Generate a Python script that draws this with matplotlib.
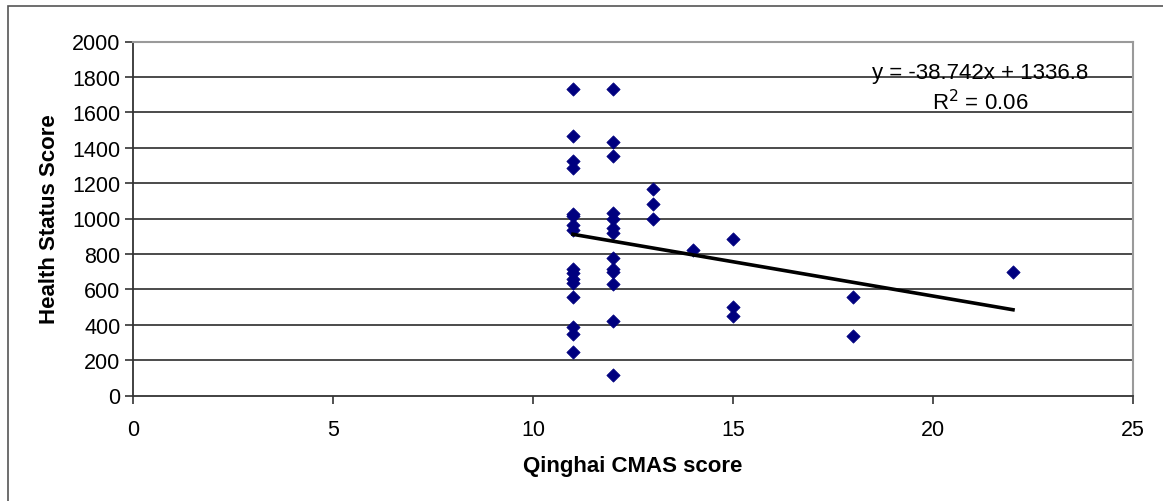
import matplotlib
matplotlib.use("Agg")
import matplotlib.pyplot as plt
from matplotlib.patches import Rectangle

# Data
cmas_x = [11]*16 + [12]*13 + [13]*3 + [14] + [15]*3 + [18]*2 + [22]
health_y = [1732, 1464, 1326, 1285, 1025, 1015, 962, 935, 713, 690, 660, 635, 558, 389, 350, 245,
            1732, 1434, 1351, 1030, 1000, 947, 917, 777, 713, 698, 632, 421, 113,
            1166, 1081, 996,
            821,
            887, 498, 449,
            557, 336,
            698]
slope = -38.742
intercept = 1336.8
r_squared = 0.06
x_ticks = [0, 5, 10, 15, 20, 25]
y_ticks = list(range(0, 2001, 200))

plt.rcParams['font.family'] = ['Liberation Sans', 'DejaVu Sans']

W, H = 1163, 502
fig = plt.figure(figsize=(W/100, H/100), dpi=100)
fig.patch.set_facecolor('white')

# outer chart frame
fig.patches.append(Rectangle((8/W, -0.1), 1.2, (H-7)/H + 0.1, transform=fig.transFigure,
                             fill=False, edgecolor='#555555', linewidth=1.2))

ax = fig.add_axes([133/W, 1 - 396.5/H, 1000/W, (396.5-42.5)/H])
ax.set_xlim(0, 25)
ax.set_ylim(0, 2000)
ax.set_xticks(x_ticks)
ax.set_yticks(y_ticks)

for v in y_ticks[1:-1]:
    ax.axhline(v, color='#1a1a1a', linewidth=1.1, zorder=1)

ax.spines['top'].set_color('#9a9a9a')
ax.spines['right'].set_color('#9a9a9a')
ax.spines['top'].set_linewidth(1.5)
ax.spines['right'].set_linewidth(1.5)
ax.spines['left'].set_color('#333333')
ax.spines['bottom'].set_color('#333333')
ax.spines['left'].set_linewidth(1.3)
ax.spines['bottom'].set_linewidth(1.3)

ax.tick_params(axis='both', direction='out', length=6, width=1.2, colors='#333333',
               labelcolor='black', labelsize=15.5)
ax.tick_params(axis='x', pad=11)
ax.tick_params(axis='y', pad=3)

ax.scatter(cmas_x, health_y, marker='D', s=46, color='#00007f', edgecolors='#00007f',
           linewidths=0.5, zorder=3)

tx = [min(cmas_x), max(cmas_x)]
ax.plot(tx, [slope*t + intercept for t in tx], color='black', linewidth=2.6, zorder=4)

fig.text(980/W, 1 - 73/H, f"y = {slope}x + {intercept}", fontsize=16,
         ha='center', va='center')
fig.text(980/W, 1 - 103/H, f"R$^2$ = {r_squared:.2f}", fontsize=16,
         ha='center', va='center')

ax.set_xlabel("Qinghai CMAS score", fontsize=16, fontweight='bold', labelpad=11)
ax.set_ylabel("Health Status Score", fontsize=16, fontweight='bold', labelpad=9)

fig.savefig("out.png", dpi=100)
